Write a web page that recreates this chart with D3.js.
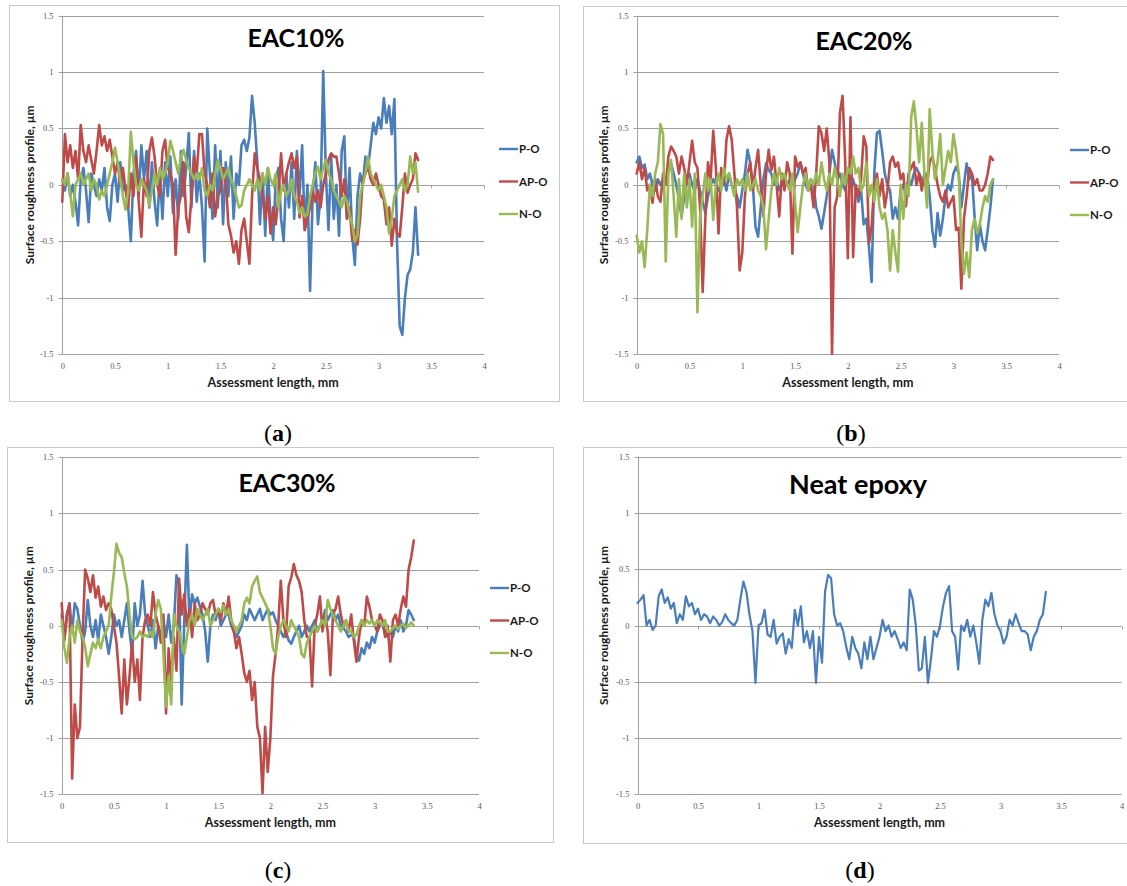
<!DOCTYPE html>
<html>
<head>
<meta charset="utf-8">
<script src="https://cdn.jsdelivr.net/npm/d3@7"></script>
<style>
  body { margin: 0; background: #fff; }
  svg { display: block; }
</style>
</head>
<body>
<svg id="fig" width="1127" height="886"></svg>
<script>
// Profilometer sampling interval along the assessment length (mm)
const xStep = 0.025;

const xTickValues = [0, 0.5, 1, 1.5, 2, 2.5, 3, 3.5, 4];
const yTickValues = [-1.5, -1, -0.5, 0, 0.5, 1, 1.5];
const seriesNames = ["P-O", "AP-O", "N-O"];
const seriesColors = ["#4A7EBB", "#BE4B48", "#98B954"];
const panelTitles = ["EAC10%", "EAC20%", "EAC30%", "Neat epoxy"];
const panelLetters = ["a", "b", "c", "d"];
const xAxisTitle = "Assessment length, mm";
const yAxisTitle = "Surface roughness profile, µm";

// Roughness profiles (µm), one value per sampling step
const eac10PO = [
  0.05, -0.05, 0.1, -0.1, 0.0, -0.15, -0.36, 0.05,
  0.15, -0.05, -0.33, 0.1, 0.0, -0.1, 0.05, -0.05,
  0.15, -0.2, -0.32, 0.0, 0.1, -0.15, 0.2, -0.05,
  0.0, -0.2, -0.5, 0.1, 0.3, -0.1, 0.35, 0.05,
  0.3, -0.2, 0.2, -0.15, -0.36, 0.1, -0.3, 0.2,
  -0.1, 0.25, -0.25, 0.05, -0.3, 0.3, -0.1, 0.15,
  0.46, -0.2, 0.3, -0.15, 0.1, -0.2, -0.68, 0.5,
  0.1, -0.3, 0.35, -0.2, 0.3, -0.35, 0.2, -0.1,
  0.25, -0.3, 0.1, 0.0, 0.35, 0.4, 0.3, 0.42,
  0.79, 0.55, 0.2, -0.35, 0.1, -0.45, 0.15, -0.3,
  -0.49, 0.05, 0.15, -0.3, -0.5, 0.1, -0.2, 0.2,
  -0.3, 0.3, -0.1, 0.35, -0.4, 0.0, -0.94, -0.1,
  0.2, -0.35, -0.1, 1.01, 0.1, -0.4, 0.25, -0.3,
  0.0, -0.45, 0.3, 0.43, -0.3, 0.15, -0.45, -0.71,
  -0.1, 0.1, 0.0, 0.25, 0.15, 0.35, 0.55, 0.45,
  0.6, 0.5, 0.77, 0.55, 0.7, 0.45, 0.76, -0.5,
  -1.25, -1.33, -1.0, -0.8, -0.75, -0.6, -0.2, -0.62
];
const eac10APO = [
  -0.15, 0.45, 0.2, 0.35, 0.15, 0.3, 0.05, 0.53,
  0.3, 0.2, 0.35, 0.22, 0.1, 0.3, 0.53, 0.35,
  0.43, 0.3, 0.4, 0.25, 0.1, 0.2, 0.0, 0.15,
  -0.05, -0.2, 0.1, -0.1, 0.25, -0.15, -0.46, 0.05,
  -0.1, 0.3, 0.42, 0.25, 0.0, -0.1, 0.3, 0.4,
  0.15, 0.1, 0.0, -0.62, -0.2, -0.1, 0.2, -0.28,
  -0.42, -0.1, 0.25, 0.1, 0.45, 0.45, 0.1, 0.0,
  -0.2, 0.1, -0.28, -0.1, -0.05, 0.15, 0.05, -0.35,
  -0.45, -0.6, -0.5, -0.7, -0.4, -0.3, -0.5, -0.7,
  -0.1, 0.28, 0.15, 0.05, -0.1, -0.3, -0.1, -0.43,
  -0.2, -0.35, -0.1, 0.28, -0.05, 0.1, 0.2, 0.28,
  0.15, 0.25, -0.29, -0.1, -0.4, -0.3, -0.2, -0.05,
  -0.15, -0.05, -0.2, 0.0, 0.1, 0.22, 0.28, 0.25,
  0.25, 0.1, -0.1, 0.05, -0.3, -0.2, -0.49, -0.4,
  -0.53, -0.3, 0.05, 0.1, 0.16, 0.05, 0.0, 0.1,
  0.0, -0.1, -0.13, -0.35, -0.2, -0.54, -0.3, -0.43,
  -0.46, -0.2, 0.1, -0.07, 0.0, 0.05, 0.28, 0.22
];
const eac10NO = [
  0.05, 0.0, 0.1, -0.07, -0.28, 0.0, 0.05, 0.1,
  0.0, 0.05, 0.1, -0.05, 0.05, 0.0, -0.13, -0.05,
  -0.1, 0.0, 0.1, 0.2, 0.33, 0.2, 0.05, -0.1,
  -0.22, -0.05, 0.47, 0.2, 0.0, -0.05, 0.05, 0.0,
  -0.05, -0.19, -0.05, 0.1, 0.0, 0.15, 0.05, 0.1,
  0.2, 0.39, 0.3, 0.2, 0.1, 0.25, 0.31, 0.22,
  0.15, 0.1, 0.05, 0.1, 0.05, 0.15, -0.05, -0.1,
  0.0, -0.05, 0.1, 0.22, 0.15, 0.05, 0.1, 0.15,
  0.05, 0.0, -0.1, -0.2, -0.18, -0.05, 0.0, 0.05,
  0.0, -0.05, 0.05, -0.05, 0.1, 0.0, 0.15, 0.05,
  0.0, 0.1, -0.2, -0.05, 0.0, -0.1, -0.05, 0.05,
  -0.1, -0.15, -0.25, -0.2, -0.28, -0.26, -0.1, 0.0,
  0.1, 0.16, 0.05, 0.15, 0.22, 0.1, 0.05, -0.05,
  -0.1, -0.15, -0.2, -0.1, -0.15, -0.26, -0.35, -0.5,
  -0.45, -0.1, 0.0, 0.1, 0.25, 0.1, 0.05, 0.0,
  -0.05, 0.0, -0.1, -0.2, -0.43, -0.3, -0.1, -0.05,
  0.0, 0.05, -0.05, 0.0, 0.25, 0.1, 0.2, -0.06
];

const eac20PO = [
  0.2, 0.25, 0.15, 0.18, 0.05, 0.1, 0.0, -0.05,
  0.05, 0.0, 0.05, 0.0, 0.15, 0.19, 0.1, 0.0,
  -0.13, -0.28, -0.1, 0.05, 0.1, 0.0, -0.05, 0.05,
  -0.05, -0.15, -0.25, -0.1, 0.0, 0.05, 0.0, -0.05,
  0.0, 0.05, -0.05, 0.1, 0.0, -0.05, -0.1, -0.2,
  -0.05, 0.1, 0.31, 0.2, 0.0, -0.37, -0.46, -0.2,
  0.05, 0.19, 0.13, 0.1, 0.0, 0.05, -0.05, 0.0,
  0.05, 0.0, 0.05, 0.0, 0.05, 0.1, 0.2, 0.1,
  0.0, -0.05, 0.05, 0.0, -0.2, -0.28, -0.39, -0.25,
  -0.1, 0.1, 0.31, 0.2, 0.05, 0.1, 0.0, -0.05,
  0.1, 0.0, 0.05, -0.05, -0.15, -0.05, -0.35, -0.3,
  -0.55, -0.86, 0.1, 0.46, 0.48, 0.3, 0.1, 0.0,
  -0.05, -0.3, -0.2, -0.3, -0.05, 0.0, -0.05, 0.05,
  0.0, 0.1, 0.15, 0.1, 0.05, 0.0, 0.1, -0.1,
  -0.4, -0.55, -0.25, -0.45, -0.3, -0.1, 0.0, -0.05,
  0.1, 0.16, 0.1, -0.2, 0.0, 0.19, 0.05, 0.1,
  -0.28, -0.58, -0.35, -0.5, -0.58, -0.4, -0.2, 0.05
];
const eac20APO = [
  0.1, 0.2, 0.05, 0.15, -0.05, 0.0, -0.16, 0.05,
  -0.1, -0.15, 0.1, 0.0, 0.25, 0.34, 0.3, 0.25,
  0.1, 0.25, 0.15, 0.0, 0.2, 0.39, 0.2, 0.15,
  -0.2, -0.95, -0.3, 0.2, 0.05, 0.48, 0.15, -0.43,
  0.15, 0.0, 0.4, 0.52, 0.4, 0.1, -0.2, -0.76,
  -0.6, -0.1, 0.1, 0.2, -0.05, 0.15, 0.31, 0.0,
  -0.28, 0.1, 0.31, 0.13, 0.25, 0.0, -0.28, 0.1,
  -0.05, 0.2, 0.1, -0.61, 0.25, 0.16, 0.2, 0.1,
  0.15, -0.05, 0.0, -0.2, 0.1, 0.52, 0.46, 0.3,
  0.5, 0.2, -1.5, -0.2, -0.1, 0.64, 0.79, 0.2,
  -0.65, 0.6, -0.64, 0.0, -0.1, 0.05, 0.43, 0.34,
  -0.52, -0.37, 0.0, 0.1, -0.1, 0.05, -0.2, -0.05,
  0.2, 0.25, 0.16, 0.2, 0.05, 0.1, -0.19, 0.1,
  0.15, 0.2, 0.0, 0.1, -0.05, 0.1, 0.0, 0.2,
  0.25, 0.15, 0.0, -0.1, -0.15, -0.05, -0.2, -0.15,
  -0.1, -0.4, -0.38, -0.92, -0.3, -0.1, 0.15, 0.1,
  0.0, 0.05, -0.05, -0.05, 0.0, 0.1, 0.25, 0.22
];
const eac20NO = [
  -0.45, -0.6, -0.5, -0.73, -0.4, 0.0, -0.1, 0.1,
  0.2, 0.54, 0.45, -0.68, 0.1, 0.22, -0.1, -0.46,
  0.05, -0.3, 0.1, -0.2, 0.05, -0.37, 0.1, -1.13,
  -0.28, -0.1, 0.1, -0.05, 0.05, -0.31, 0.0, 0.1,
  -0.05, 0.15, 0.05, 0.1, 0.0, -0.1, 0.05, 0.0,
  0.05, -0.05, 0.1, -0.05, 0.0, 0.05, -0.05, -0.1,
  -0.2, -0.57, -0.3, -0.05, 0.1, 0.0, 0.15, 0.05,
  0.1, 0.0, -0.05, 0.1, -0.15, -0.42, -0.2, 0.0,
  0.1, -0.05, 0.05, 0.0, 0.1, 0.0, 0.2, 0.05,
  -0.05, 0.1, 0.0, 0.15, 0.05, -0.1, 0.1, 0.0,
  0.15, 0.1, 0.25, 0.1, 0.15, -0.05, 0.0, 0.2,
  -0.1, 0.0, -0.15, 0.05, -0.2, -0.3, -0.25, -0.4,
  -0.76, -0.4, -0.6, -0.77, 0.0, -0.3, 0.0, -0.1,
  0.6, 0.74, 0.5, 0.2, 0.55, 0.1, -0.2, 0.67,
  0.3, 0.05, 0.2, 0.45, 0.0, 0.15, 0.3, 0.2,
  0.45, 0.3, 0.1, -0.5, -0.79, -0.6, -0.82, -0.4,
  -0.3, -0.43, -0.35, -0.2, -0.1, -0.15, 0.0, 0.05
];

const eac30PO = [
  0.1, -0.13, 0.1, 0.2, -0.05, 0.2, 0.15, 0.0,
  -0.15, -0.05, 0.23, 0.0, -0.1, 0.05, -0.13, 0.1,
  0.0, -0.1, -0.25, -0.1, 0.1, 0.0, 0.05, -0.1,
  0.05, 0.2, -0.05, -0.25, 0.2, 0.0, 0.1, 0.4,
  0.1, 0.0, -0.1, 0.05, -0.2, 0.0, -0.1, 0.05,
  -0.1, 0.1, -0.15, 0.0, 0.45, 0.35, -0.7, 0.05,
  0.72, 0.05, 0.28, 0.2, 0.25, 0.17, 0.1, -0.05,
  -0.32, 0.0, 0.1, 0.05, 0.15, 0.0, 0.05, 0.1,
  0.1, 0.0, -0.05, -0.1, -0.05, 0.0, 0.1, 0.05,
  0.15, 0.1, 0.05, 0.1, 0.15, 0.05, 0.1, 0.15,
  0.1, 0.12, 0.05, 0.0, -0.05, -0.1, -0.05, -0.13,
  -0.16, -0.1, -0.05, 0.0, -0.1, -0.05, 0.0, -0.05,
  0.0, 0.05, -0.05, 0.0, 0.05, 0.14, 0.05, 0.1,
  0.14, 0.05, 0.1, 0.0, -0.02, -0.05, -0.1, -0.08,
  -0.1, -0.25, -0.31, -0.2, -0.25, -0.15, -0.2, -0.1,
  -0.15, -0.05, 0.0, 0.0, -0.05, -0.1, -0.05, -0.1,
  0.0, -0.05, 0.05, -0.05, 0.0, 0.14, 0.1, 0.05
];
const eac30APO = [
  0.2, -0.13, 0.1, 0.2, -1.36, -0.7, -1.0, -0.9,
  -0.1, 0.5, 0.42, 0.3, 0.45, 0.25, 0.35, 0.17,
  0.26, 0.14, 0.2, 0.15, 0.0, -0.15, -0.45, -0.78,
  -0.3, -0.7, -0.45, -0.15, -0.5, -0.3, -0.66, -0.1,
  0.05, 0.1, 0.0, 0.3, 0.1, 0.0, -0.15, 0.1,
  -0.78, -0.2, -0.5, -0.1, -0.4, 0.42, 0.1, 0.28,
  0.0, 0.15, -0.1, 0.2, 0.05, 0.1, 0.2, 0.15,
  0.1, 0.2, 0.23, 0.1, 0.15, 0.05, 0.2, 0.1,
  0.26, 0.05, -0.05, -0.2, -0.1, -0.25, -0.42, -0.5,
  -0.4, -0.66, -0.5, -0.9, -1.0, -1.49, -0.9, -1.3,
  -1.0, -0.45, -0.25, 0.0, 0.4, 0.05, -0.1, 0.35,
  0.43, 0.55, 0.45, 0.4, 0.3, 0.05, -0.1, -0.1,
  -0.54, 0.0, 0.1, 0.26, -0.05, 0.1, -0.05, -0.44,
  0.1, 0.15, 0.26, 0.1, 0.0, 0.05, -0.05, 0.1,
  -0.13, -0.32, -0.1, 0.05, 0.0, 0.26, 0.17, 0.05,
  0.0, -0.05, 0.1, 0.05, -0.1, 0.0, -0.32, 0.05,
  0.1, 0.0, 0.15, 0.26, 0.17, 0.5, 0.61, 0.76
];
const eac30NO = [
  0.05, -0.19, -0.33, -0.1, 0.0, -0.15, 0.05, -0.05,
  -0.1, -0.19, -0.36, -0.25, -0.15, -0.2, -0.12, -0.2,
  -0.1, -0.05, 0.0, 0.26, 0.47, 0.73, 0.65, 0.61,
  0.47, 0.35, 0.1, -0.1, -0.12, -0.1, -0.05, -0.1,
  -0.08, -0.1, -0.05, -0.1, 0.11, 0.23, 0.15, -0.25,
  -0.72, -0.45, -0.7, 0.1, 0.0, -0.05, -0.15, -0.25,
  -0.1, 0.05, 0.1, 0.0, 0.15, 0.1, 0.05, 0.1,
  0.15, 0.0, 0.05, 0.1, 0.15, 0.12, 0.18, 0.1,
  0.15, 0.05, 0.0, -0.05, 0.0, 0.05, 0.2, 0.25,
  0.2, 0.35, 0.4, 0.44, 0.3, 0.25, 0.2, 0.15,
  0.0, -0.2, -0.25, -0.1, 0.0, 0.05, 0.0, -0.05,
  0.05, 0.0, -0.05, -0.1, -0.25, -0.28, -0.15, -0.1,
  -0.05, 0.0, -0.05, 0.0, 0.05, 0.0, 0.23, 0.15,
  0.1, 0.05, 0.0, -0.05, 0.0, 0.05, -0.05, -0.05,
  -0.1, -0.08, 0.0, 0.05, 0.0, 0.05, 0.02, 0.05,
  0.0, 0.05, 0.03, 0.0, 0.05, -0.05, -0.05, -0.02,
  0.0, -0.03, 0.0, 0.02, -0.02, 0.0, 0.03, 0.0
];

const neatPO = [
  0.2, 0.23, 0.27, 0.0, 0.05, -0.04, 0.0, 0.26,
  0.32, 0.2, 0.25, 0.15, 0.2, 0.02, 0.1, 0.05,
  0.26, 0.17, 0.2, 0.1, 0.15, 0.05, 0.1, 0.08,
  0.02, 0.08, 0.05, 0.0, 0.03, 0.1, 0.05, 0.02,
  0.0, 0.05, 0.23, 0.39, 0.3, 0.1, -0.05, -0.51,
  0.0, 0.02, 0.14, -0.08, -0.1, 0.05, -0.16, -0.1,
  -0.07, -0.25, -0.12, -0.2, 0.14, 0.0, 0.17, -0.15,
  -0.05, -0.2, -0.05, -0.51, -0.1, -0.33, 0.3, 0.45,
  0.42, 0.1, 0.0, 0.02, -0.05, -0.19, -0.3, -0.1,
  -0.2, -0.25, -0.38, -0.15, -0.3, -0.1, -0.3, -0.2,
  -0.1, 0.05, -0.05, 0.0, -0.1, -0.05, -0.12, -0.2,
  -0.15, -0.22, 0.32, 0.23, 0.0, -0.4, -0.38, -0.1,
  -0.51, -0.3, -0.05, -0.1, 0.0, 0.17, 0.29, 0.35,
  -0.05, -0.1, -0.39, 0.0, -0.05, 0.05, -0.1, 0.0,
  -0.15, -0.34, 0.05, 0.23, 0.17, 0.29, 0.1, 0.0,
  -0.05, -0.16, -0.1, 0.05, 0.0, 0.1, 0.02, -0.05,
  -0.05, -0.08, -0.22, -0.1, -0.05, 0.05, 0.1, 0.3
];

// Layout of the four chart frames
const panels = [
  { title: panelTitles[0], letter: panelLetters[0], series: [eac10PO, eac10APO, eac10NO], legend: true,
    box: [9.5, 5.5, 550, 396], plot: [62.3, 484, 15.7, 354], titleAt: [296, 46.7], titleSize: 25,
    legendAt: [499, 149, 32.5], labelAt: [278, 441], yTitleX: 34, lineW: 2.6 },
  { title: panelTitles[1], letter: panelLetters[1], series: [eac20PO, eac20APO, eac20NO], legend: true,
    box: [583.5, 6.5, 600, 395], plot: [636.7, 1059, 15.7, 354], titleAt: [864, 50], titleSize: 25,
    legendAt: [1070, 150, 32.5], labelAt: [851, 441], yTitleX: 608, lineW: 2.6 },
  { title: panelTitles[2], letter: panelLetters[2], series: [eac30PO, eac30APO, eac30NO], legend: true,
    box: [7.5, 447.5, 546, 395], plot: [61.7, 479, 457.3, 794.3], titleAt: [287, 491.7], titleSize: 25,
    legendAt: [490, 588, 32.5], labelAt: [278, 878], yTitleX: 32.5, lineW: 2.6 },
  { title: panelTitles[3], letter: panelLetters[3], series: [neatPO], legend: false,
    box: [583.5, 447.5, 600, 396], plot: [637.5, 1121.5, 456.7, 794.3], titleAt: [858, 494], titleSize: 27,
    legendAt: null, labelAt: [860, 878], yTitleX: 608, lineW: 2.2 }
];

const svg = d3.select("#fig");
const gridColor = "#a0a0a0";
const sansBold = "Lato, 'Liberation Sans', sans-serif";

panels.forEach(p => {
  const g = svg.append("g");

  g.append("rect")
    .attr("x", p.box[0]).attr("y", p.box[1])
    .attr("width", p.box[2]).attr("height", p.box[3])
    .attr("fill", "#fff").attr("stroke", "#c9c9c9").attr("stroke-width", 1);

  const x = d3.scaleLinear().domain([0, 4]).range([p.plot[0], p.plot[1]]);
  const y = d3.scaleLinear().domain([-1.5, 1.5]).range([p.plot[3], p.plot[2]]);
  const px = v => Math.round(v) + 0.5;

  // horizontal gridlines
  g.append("g").selectAll("line").data(yTickValues).join("line")
    .attr("x1", px(x(0))).attr("x2", x(4))
    .attr("y1", d => px(y(d))).attr("y2", d => px(y(d)))
    .attr("stroke", gridColor).attr("stroke-width", 1);

  // vertical axis with outside tick marks
  const ya = g.append("g")
    .attr("transform", `translate(${px(x(0))},0)`)
    .call(d3.axisLeft(y).tickValues(yTickValues).tickSize(4).tickPadding(5).tickFormat(d => String(d)));
  ya.select(".domain").attr("stroke", gridColor).attr("d", `M0,${y(1.5)}V${y(-1.5)}`);
  ya.selectAll(".tick line").attr("stroke", gridColor);
  ya.selectAll(".tick").attr("transform", d => `translate(0,${px(y(d))})`);
  ya.selectAll("text")
    .attr("font-family", "'Liberation Serif', serif").attr("font-size", 8.5).attr("fill", "#595959");

  // category labels along the bottom
  const xa = g.append("g")
    .attr("transform", `translate(0,${y(-1.5)})`)
    .call(d3.axisBottom(x).tickValues(xTickValues).tickSize(0).tickPadding(9).tickFormat(d => String(d)));
  xa.select(".domain").remove();
  xa.selectAll("text")
    .attr("font-family", "'Liberation Serif', serif").attr("font-size", 8.5).attr("fill", "#595959");

  // small tick marks on the zero line
  g.append("g").selectAll("line").data(xTickValues.slice(1)).join("line")
    .attr("x1", d => px(x(d))).attr("x2", d => px(x(d)))
    .attr("y1", px(y(0))).attr("y2", px(y(0)) + 3)
    .attr("stroke", gridColor);

  // profile traces
  const line = d3.line()
    .x((d, i) => x(i * xStep))
    .y(d => y(d));
  g.append("g").selectAll("path").data(p.series).join("path")
    .attr("d", d => line(d))
    .attr("fill", "none")
    .attr("stroke", (d, i) => seriesColors[i])
    .attr("stroke-width", p.lineW)
    .attr("stroke-linejoin", "round")
    .attr("stroke-linecap", "round");

  // chart title
  g.append("text")
    .attr("x", p.titleAt[0]).attr("y", p.titleAt[1])
    .attr("text-anchor", "middle")
    .attr("font-family", sansBold).attr("font-weight", 700).attr("font-size", p.titleSize)
    .attr("fill", "#000")
    .text(p.title);

  // axis titles
  g.append("text")
    .attr("x", (p.plot[0] + p.plot[1]) / 2).attr("y", p.plot[3] + 33)
    .attr("text-anchor", "middle")
    .attr("font-family", sansBold).attr("font-weight", 700).attr("font-size", 12.5)
    .attr("fill", "#1a1a1a")
    .text(xAxisTitle);
  g.append("text")
    .attr("transform", `translate(${p.yTitleX},${(p.plot[2] + p.plot[3]) / 2}) rotate(-90)`)
    .attr("text-anchor", "middle")
    .attr("font-family", sansBold).attr("font-weight", 700).attr("font-size", 12)
    .attr("fill", "#1a1a1a")
    .text(yAxisTitle);

  // legend
  if (p.legend) {
    const lg = g.append("g").selectAll("g").data(seriesNames).join("g")
      .attr("transform", (d, i) => `translate(${p.legendAt[0]},${p.legendAt[1] + i * p.legendAt[2]})`);
    lg.append("line")
      .attr("x1", 0).attr("x2", 19).attr("y1", 0).attr("y2", 0)
      .attr("stroke", (d, i) => seriesColors[i]).attr("stroke-width", 2.4);
    lg.append("text")
      .attr("x", 20).attr("y", 0).attr("dy", "0.36em")
      .attr("font-family", sansBold).attr("font-weight", 700).attr("font-size", 11.5)
      .attr("fill", "#1a1a1a")
      .text(d => d);
  }

  // sub-figure label
  const lab = svg.append("text")
    .attr("x", p.labelAt[0]).attr("y", p.labelAt[1])
    .attr("text-anchor", "middle")
    .attr("font-family", "'Liberation Serif', 'DejaVu Serif', serif").attr("font-size", 24)
    .attr("fill", "#000");
  lab.append("tspan").text("(");
  lab.append("tspan").attr("font-weight", 700).text(p.letter);
  lab.append("tspan").text(")");
});
</script>
</body>
</html>
